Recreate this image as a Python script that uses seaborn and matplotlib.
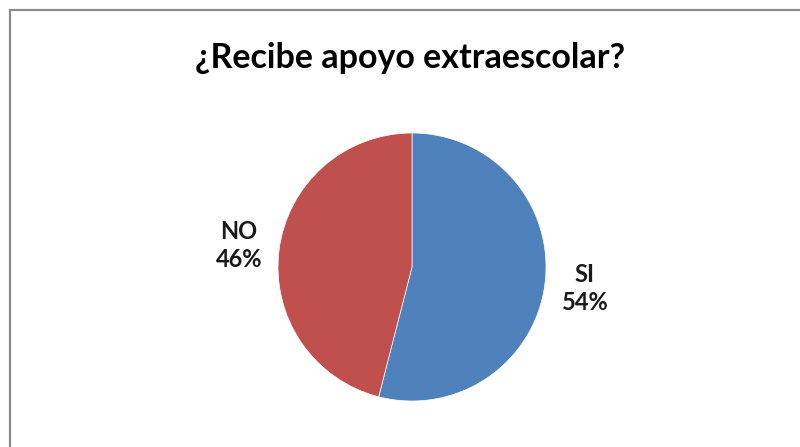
import seaborn as sns
import matplotlib.pyplot as plt
from matplotlib.patches import Rectangle

sns.set_style("white")
plt.rcParams['font.family'] = ['Lato', 'DejaVu Sans']

categories = ['SI', 'NO']
values = [54, 46]
colors = ['#4f81bd', '#c0504d']

fig = plt.figure(figsize=(8, 4.47), dpi=100)

# chart frame (cut off at right and bottom like the screenshot)
fig.patches.append(Rectangle((10 / 800, -0.1), 1.2, (447 - 10) / 447 + 0.1,
                             transform=fig.transFigure, fill=False,
                             edgecolor='#8c8c8c', linewidth=1.6))

r = 134
cx, cy = 412, 447 - 267
ax = fig.add_axes([(cx - r) / 800, (cy - r) / 447, 2 * r / 800, 2 * r / 447])

labels = [f'{c}\n{v}%' for c, v in zip(categories, values)]
wedges, texts = ax.pie(values, labels=labels, colors=colors, startangle=90,
                       counterclock=False, labeldistance=1.3,
                       wedgeprops={'linewidth': 0.5, 'edgecolor': 'white'},
                       textprops={'fontsize': 17, 'fontweight': 'bold',
                                  'color': '#1a1a1a'})
for t in texts:
    t.set_horizontalalignment('center')
    t.set_verticalalignment('center')
    t.set_linespacing(1.25)
ax.set_aspect('auto')
ax.set_xlim(-1, 1)
ax.set_ylim(-1, 1)

fig.text(410 / 800, 1 - 58 / 447, '¿Recibe apoyo extraescolar?',
         ha='center', va='center', fontsize=24.5, fontweight='bold', color='black')

fig.savefig('out.png', dpi=100)
